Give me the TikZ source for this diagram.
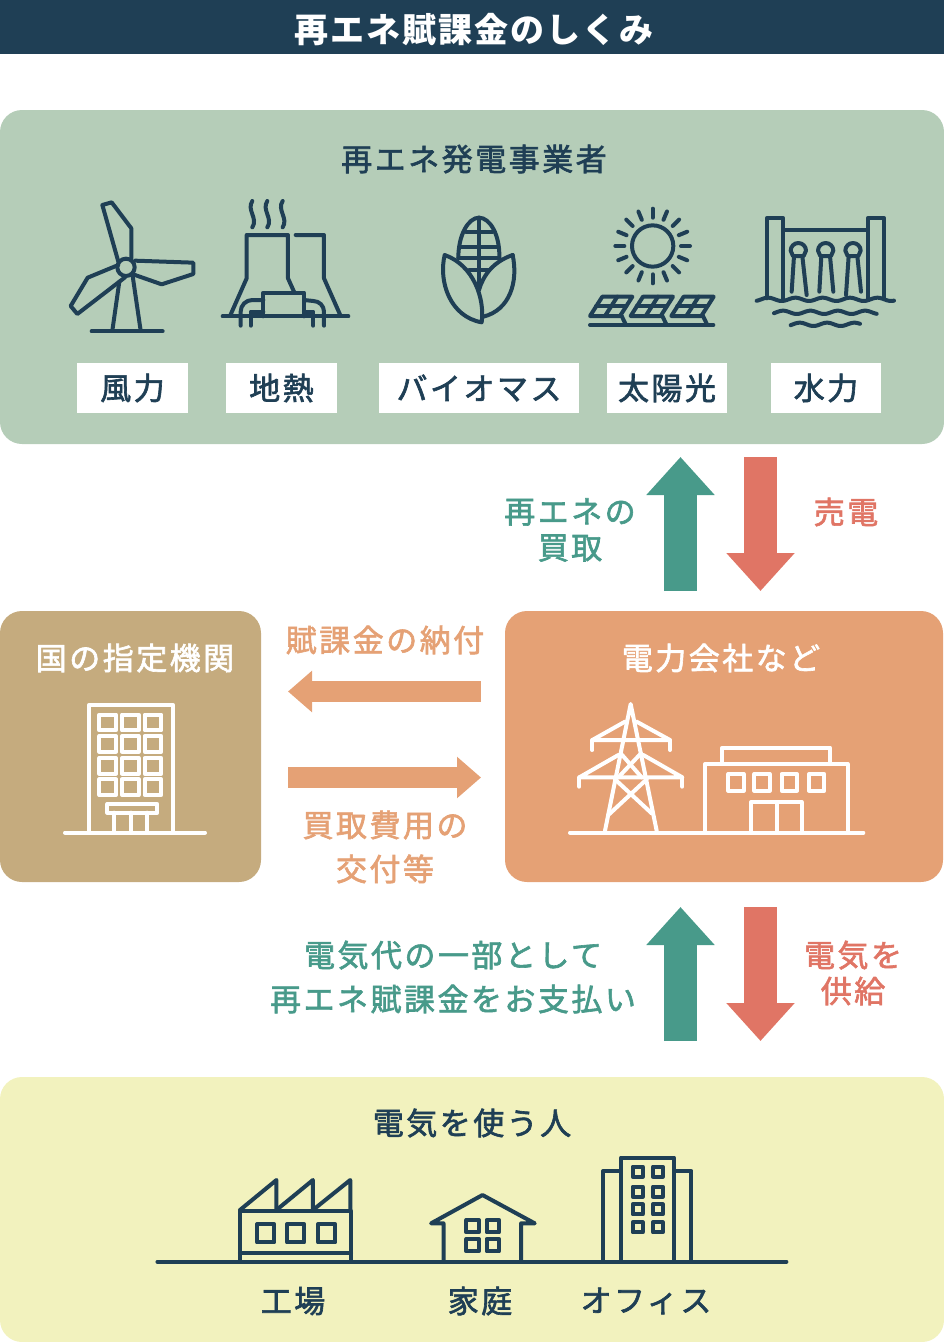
\documentclass[tikz,border=0pt]{standalone}
\usepackage{fontspec}
\usetikzlibrary{arrows.meta}
\newfontfamily\jpfont[LetterSpace=8,FakeBold=2]{Noto Sans CJK JP}
\newfontfamily\jptitle[LetterSpace=6]{Noto Sans CJK JP}
\definecolor{navy}{HTML}{1F3F55}
\definecolor{sage}{HTML}{B5CDB8}
\definecolor{teal}{HTML}{489A8A}
\definecolor{coral}{HTML}{E07565}
\definecolor{peach}{HTML}{E5A175}
\definecolor{tan}{HTML}{C5AB7E}
\definecolor{cream}{HTML}{F2F2BE}
\tikzset{
  panel/.style={inner sep=0pt,rounded corners=22pt},
  basetxt/.style={font=\jpfont\fontsize{31pt}{36pt}\selectfont,inner sep=0pt,align=center},
  txt/.style={basetxt,yshift=1pt},
  icon/.style={draw=navy,line width=4pt,line cap=round,line join=round},
  wicon/.style={draw=white,line width=4pt,line cap=round,line join=round},
  lab/.style={fill=white,inner sep=0pt,minimum height=50pt,basetxt,text=navy},
  bigarrow/.style={line width=33pt,-{Triangle[width=66pt,length=38pt]}},
  flatarrow/.style={line width=21pt,-{Triangle[width=40pt,length=24pt]}}
}
\begin{document}
\begin{tikzpicture}[x=1pt,y=-1pt]
\useasboundingbox (0,0) rectangle (944,1342);
% panels
\node[fill=navy,minimum width=944pt,minimum height=54pt,inner sep=0pt] (bar) at (472,27) {};
\node[panel,fill=sage,minimum width=944pt,minimum height=334pt] (gen) at (472,277) {};
\node[panel,fill=tan,minimum width=261pt,minimum height=271pt] (gov) at (130.5,746.5) {};
\node[panel,fill=peach,minimum width=438pt,minimum height=271pt] (util) at (724,746.5) {};
\node[panel,fill=cream,minimum width=944pt,minimum height=265pt] (users) at (472,1209.5) {};
% titles
\node[font=\jptitle\bfseries\fontsize{34pt}{36pt}\selectfont,text=white,inner sep=0pt] (title) at (474,30) {再エネ賦課金のしくみ};
\node[txt,text=navy] (t1) at (474,160) {再エネ発電事業者};
\node[txt,text=white] (t2) at (135,659) {国の指定機関};
\node[txt,text=white] (t3) at (721,659) {電力会社など};
\node[txt,text=navy] (t4) at (472,1124) {電気を使う人};
% labels
\node[lab,minimum width=111pt] (l1) at (132.5,388) {\raisebox{1pt}{風力}};
\node[lab,minimum width=111pt] (l2) at (281.5,388) {\raisebox{1pt}{地熱}};
\node[lab,minimum width=200pt] (l3) at (479,388) {\raisebox{1pt}{バイオマス}};
\node[lab,minimum width=120pt] (l4) at (667,388) {\raisebox{1pt}{太陽光}};
\node[lab,minimum width=110pt] (l5) at (826,388) {\raisebox{1pt}{水力}};
\node[txt,text=navy] (u1) at (293,1302) {工場};
\node[txt,text=navy] (u2) at (480,1302) {家庭};
\node[txt,text=navy] (u3) at (646,1302) {オフィス};
% arrow labels
\node[txt,text=teal] (a1) at (570,531) {再エネの\\買取};
\node[txt,text=coral] (a2) at (846,513) {売電};
\node[txt,text=peach] (a3) at (385,641) {賦課金の納付};
\node[txt,text=peach,font=\jpfont\fontsize{31pt}{44pt}\selectfont] (a4) at (385,848) {買取費用の\\交付等};
\node[txt,text=teal,font=\jpfont\fontsize{31pt}{44pt}\selectfont] (a5) at (453,978) {電気代の一部として\\再エネ賦課金をお支払い};
\node[txt,text=coral] (a6) at (853,974) {電気を\\供給};
% arrows
\coordinate (p1) at (680.5,591); \coordinate (p2) at (680.5,457);
\coordinate (p3) at (760.5,457); \coordinate (p4) at (760.5,591);
\coordinate (p5) at (680.5,1041); \coordinate (p6) at (680.5,907);
\coordinate (p7) at (760.5,907); \coordinate (p8) at (760.5,1041);
\coordinate (q1) at (481,691.5); \coordinate (q2) at (288,691.5);
\coordinate (q3) at (288,777.5); \coordinate (q4) at (481,777.5);
\draw[bigarrow,teal] (p1) -- (p2);
\draw[bigarrow,coral] (p3) -- (p4);
\draw[bigarrow,teal] (p5) -- (p6);
\draw[bigarrow,coral] (p7) -- (p8);
\draw[flatarrow,peach] (q1) -- (q2);
\draw[flatarrow,peach] (q3) -- (q4);
% windmill + geothermal
\begin{scope}[shift={(50,190)},x=0.33333pt,y=-0.33333pt]
\draw[icon] (228,232) circle[radius=26];
\draw[icon] (205,215) -- (157,45) -- (185,37) -- (244,115) -- (244,205);
\draw[icon] (255,212) -- (430,218) -- (430,252) -- (335,283) -- (255,255);
\draw[icon] (205,225) -- (113,263) -- (62,348) -- (82,372) -- (225,262);
\draw[icon] (208,275) -- (187,422);
\draw[icon] (248,258) -- (272,422);
\draw[icon] (125,424) -- (338,424);
\foreach \s in {607,652,698}
  \draw[icon] (\s,33) .. controls (\s-18,60) and (\s+18,85) .. (\s,112);
\draw[icon] (540,378) -- (590,265) -- (590,135) -- (714,135) -- (714,265) -- (732,305);
\draw[icon] (737,135) -- (822,135) -- (822,265) -- (872,378);
\draw[icon] (518,379) -- (895,379);
\draw[icon] (640,379) -- (640,308) -- (762,308) -- (762,379);
\draw[icon] (572,407) -- (572,365) arc[start angle=180,end angle=270,radius=35] -- (640,330);
\draw[icon] (602,407) -- (602,365) -- (640,365);
\draw[icon] (822,407) -- (822,365) arc[start angle=0,end angle=-90,radius=32] -- (762,330);
\draw[icon] (790,407) -- (790,365) -- (762,365);
\end{scope}
% corn
\begin{scope}[shift={(430,205)},x=0.33333pt,y=-0.33333pt]
\draw[icon] (85,158) .. controls (85,90) and (115,38) .. (147,38) .. controls (180,38) and (210,90) .. (208,158);
\draw[icon] (147,38) -- (147,250);
\draw[icon] (108,82) -- (186,82);
\draw[icon] (88,125) -- (205,125);
\draw[icon] (85,160) -- (208,160);
\draw[icon] (118,195) -- (175,195);
\draw[icon] (44,150) .. controls (25,230) and (60,335) .. (155,352) .. controls (165,280) and (130,180) .. (44,150);
\draw[icon] (248,150) .. controls (265,230) and (240,315) .. (160,335);
\draw[icon] (248,150) .. controls (190,170) and (160,210) .. (147,255);
\end{scope}
% sun + panels + dam
\begin{scope}[shift={(570,190)},x=0.33333pt,y=-0.33333pt]
\draw[icon] (248,168) circle[radius=62];
\foreach \a in {0,22.5,...,337.5}
  \draw[icon] ({248+85*cos(\a)},{168+85*sin(\a)}) -- ({248+112*cos(\a)},{168+112*sin(\a)});
\foreach \d in {0,122,244} {
  \draw[icon] (60+\d,378) -- (97+\d,320) -- (187+\d,320) -- (150+\d,378) -- cycle;
  \draw[icon] (78+\d,349) -- (168+\d,349);
  \draw[icon] (105+\d,378) -- (142+\d,320);
  \draw[icon] (155+\d,378) -- (167+\d,403);
}
\draw[icon] (60,405) -- (430,405);
\draw[icon] (590,325) -- (590,85) -- (640,85) -- (640,325);
\draw[icon] (893,325) -- (893,85) -- (943,85) -- (943,325);
\draw[icon] (640,120) -- (893,120);
\foreach \c in {685,767,849} {
  \draw[icon] (\c-23,182) arc[start angle=180,end angle=360,radius=23] -- (\c+16,198) -- (\c-16,198) -- cycle;
}
\draw[icon] (672,198) -- (665,305);
\draw[icon] (697,198) -- (710,315);
\draw[icon] (754,198) -- (748,305);
\draw[icon] (780,198) -- (790,305);
\draw[icon] (836,198) -- (828,315);
\draw[icon] (862,198) -- (873,305);
\draw[icon] plot[smooth,domain=560:972,samples=60] (\x,{328+5*sin(4.39*(\x-560)+120)});
\draw[icon] plot[smooth,domain=612:920,samples=50] (\x,{367+5*sin(4.39*(\x-612)+150)});
\draw[icon] plot[smooth,domain=662:870,samples=40] (\x,{403+5*sin(4.39*(\x-662)+150)});
\end{scope}
% utility icon
\begin{scope}[shift={(550,690)},x=0.33333pt,y=-0.33333pt]
\draw[wicon] (165,422) -- (242,42) -- (320,422);
\draw[wicon] (225,95) -- (127,150) -- (360,150) -- (260,95);
\draw[wicon] (127,150) -- (127,180);
\draw[wicon] (360,150) -- (360,180);
\draw[wicon] (205,195) -- (88,262) -- (397,262) -- (280,195);
\draw[wicon] (88,262) -- (88,290);
\draw[wicon] (397,262) -- (397,290);
\draw[wicon] (212,190) -- (275,262);
\draw[wicon] (273,190) -- (205,262);
\draw[wicon] (195,268) -- (305,370);
\draw[wicon] (290,268) -- (175,375);
\draw[wicon] (60,428) -- (940,428);
\draw[wicon] (465,428) -- (465,222) -- (893,222) -- (893,428);
\draw[wicon] (517,222) -- (517,173) -- (840,173) -- (840,222);
\foreach \w in {535,613,695,777}
  \draw[wicon] (\w,252) rectangle (\w+46,302);
\draw[wicon] (603,428) -- (603,336) -- (755,336) -- (755,428);
\draw[wicon] (680,336) -- (680,428);
\end{scope}
% government icon
\begin{scope}[shift={(50,690)},x=0.33333pt,y=-0.33333pt]
\draw[wicon] (118,428) -- (118,44) -- (368,44) -- (368,428);
\draw[wicon] (45,428) -- (465,428);
\foreach \cx in {148,216,284}
  \foreach \ry in {74,138,204,268}
    \draw[wicon] (\cx,\ry) rectangle (\cx+50,\ry+47);
\draw[wicon] (172,342) rectangle (322,368);
\foreach \px in {193,243,292}
  \draw[wicon] (\px,368) -- (\px,428);
\end{scope}
% user icons
\begin{scope}[shift={(150,1145)},x=0.41459pt,y=-0.33333pt]
\draw[icon] (18,350) -- (1535,350);
\draw[icon] (217,350) -- (217,198) -- (485,198) -- (485,350);
\draw[icon] (217,325) -- (485,325);
\draw[icon] (217,195) -- (305,105) -- (305,195);
\draw[icon] (305,195) -- (393,105) -- (393,195);
\draw[icon] (393,195) -- (483,105) -- (483,195);
\foreach \w in {258,330,405}
  \draw[icon] (\w,238) rectangle (\w+42,292);
\draw[icon] (708,350) -- (708,235) -- (678,235) -- (802,150) -- (928,235) -- (895,235) -- (895,350);
\foreach \w in {763,812}
  \foreach \h in {225,282}
    \draw[icon] (\w,\h) rectangle (\w+30,\h+37);
\draw[icon] (1136,350) -- (1136,38) -- (1264,38) -- (1264,350);
\draw[icon] (1136,78) -- (1093,78) -- (1093,350);
\draw[icon] (1264,78) -- (1306,78) -- (1306,350);
\foreach \w in {1164,1213}
  \foreach \h in {65,125,178,232}
    \draw[icon] (\w,\h) rectangle (\w+24,\h+30);
\end{scope}
\end{tikzpicture}
\end{document}
